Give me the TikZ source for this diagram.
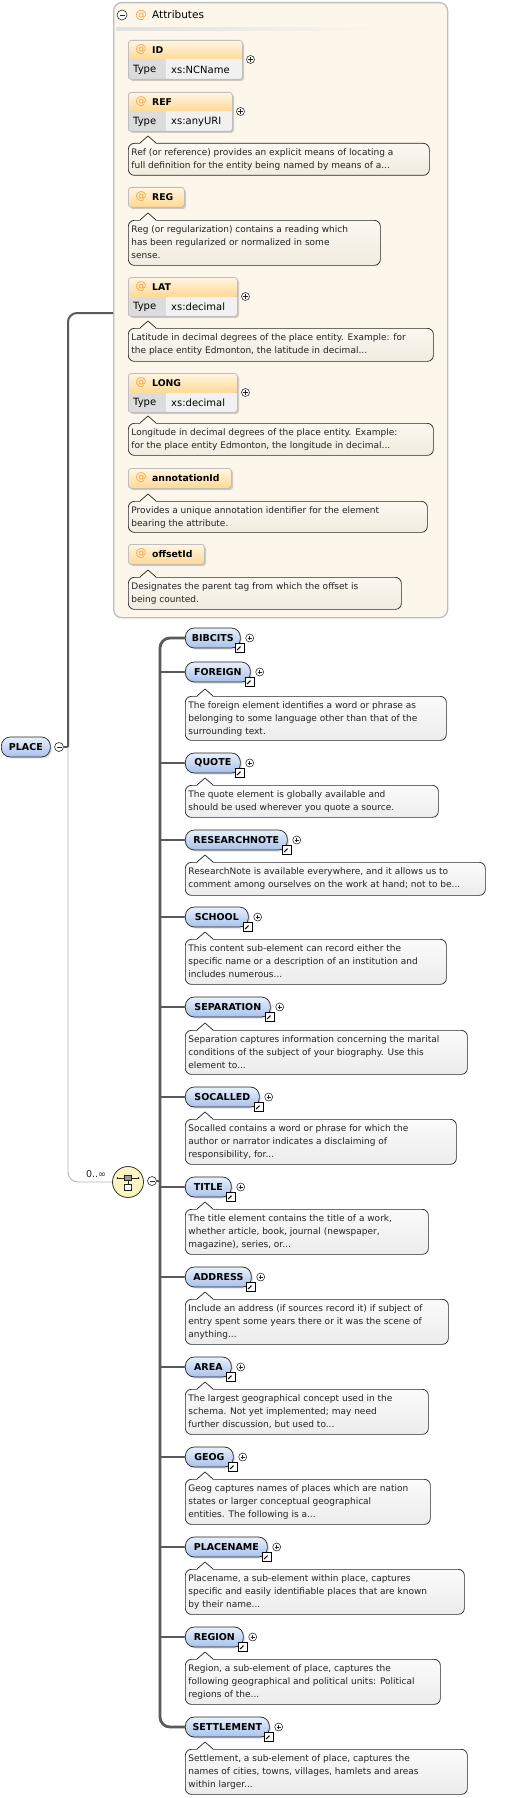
\documentclass[tikz,border=0pt]{standalone}
\usepackage{fontspec}
\setmainfont{DejaVu Sans}
\usetikzlibrary{shadows}
\definecolor{attrbg}{HTML}{FDF6EA}
\definecolor{attrborder}{HTML}{BEBEBE}
\definecolor{elemtop}{HTML}{E8F0FC}
\definecolor{elembot}{HTML}{A8C1EA}
\definecolor{chfill}{HTML}{FBF5C2}
\definecolor{desctop}{HTML}{FBFBFB}
\definecolor{descbot}{HTML}{ECECEC}
\definecolor{adesctop}{HTML}{FCF8F1}
\definecolor{adescbot}{HTML}{F1EBE0}
\definecolor{attrtop}{HTML}{FFF6E4}
\definecolor{attrbot}{HTML}{FFD894}
\definecolor{typel}{HTML}{DCDCDC}
\definecolor{typer}{HTML}{F1F1F1}
\definecolor{atorange}{HTML}{F2A23A}
\definecolor{connc}{HTML}{5A5A5A}
\definecolor{thinc}{HTML}{B4B4B4}
\definecolor{txtc}{HTML}{222222}
\tikzset{
  elem/.style={draw=black!85, line width=0.7pt, rounded corners=9pt, top color=elemtop, bottom color=elembot,
    minimum height=20pt, inner xsep=5pt, inner ysep=0pt, font=\fontsize{9.5}{11}\selectfont\bfseries, text=black,
    drop shadow={shadow xshift=1.5pt, shadow yshift=-1.5pt, opacity=0.25}},
  plusc/.style={circle, draw=black!85, fill=white, minimum size=8pt, inner sep=0pt, line width=0.55pt,
    path picture={\draw[line width=0.55pt] ([xshift=-2.2pt]path picture bounding box.center) -- ([xshift=2.2pt]path picture bounding box.center)
      ([yshift=-2.2pt]path picture bounding box.center) -- ([yshift=2.2pt]path picture bounding box.center);}},
  minusc/.style={circle, draw=black!85, fill=white, minimum size=9pt, inner sep=0pt, line width=0.6pt,
    path picture={\draw[line width=0.6pt] ([xshift=-2.5pt]path picture bounding box.center) -- ([xshift=2.5pt]path picture bounding box.center);}},
  scut/.style={draw=black, fill=white, minimum size=9pt, inner sep=0pt, line width=0.6pt,
    path picture={\draw[line width=1.1pt] ([shift={(-2.6pt,-2.6pt)}]path picture bounding box.center) -- ([shift={(1pt,1pt)}]path picture bounding box.center);
      \fill ([shift={(3pt,3pt)}]path picture bounding box.center) -- ([shift={(-1.2pt,3pt)}]path picture bounding box.center) -- ([shift={(3pt,-1.2pt)}]path picture bounding box.center) -- cycle;}},
  descbox/.style={draw=black!85, line width=0.7pt, rounded corners=6pt, top color=desctop, bottom color=descbot, inner sep=0pt},
  descbox-tip/.style={fill=desctop},
  adescbox/.style={draw=black!85, line width=0.7pt, rounded corners=6pt, top color=adesctop, bottom color=adescbot, inner sep=0pt},
  adescbox-tip/.style={fill=adesctop},
  desctext/.style={inner sep=0pt, align=left, font=\fontsize{9}{13.3}\selectfont, text=txtc},
  attrframe/.style={draw=attrborder, line width=0.8pt, rounded corners=3pt, inner sep=0pt},
  attrname/.style={inner sep=0pt, font=\fontsize{9.3}{11}\selectfont\bfseries, text=black},
  atsym/.style={inner sep=0pt, font=\fontsize{11}{12}\selectfont, text=atorange},
  typetxt/.style={inner sep=0pt, font=\fontsize{10}{11}\selectfont, text=black},
  elconn/.style={draw=connc, line width=2pt},
  barline/.style={draw=connc, line width=2.8pt},
  thinconn/.style={draw=thinc, line width=0.9pt},
}
% element: name, y center, right x, label
\newcommand\mkEl[4]{%
  \pgfmathsetmacro\elw{#3-185}%
  \node[elem, minimum width=\elw pt, anchor=west] (#1) at (185,#2) {#4};
  \node[plusc] (#1-p) at ([xshift=9pt]#1.east) {};
  \node[scut] (#1-s) at ([xshift=-1pt,yshift=1pt]#1.south east) {};
}
% description: name, left, top, bottom, right, style, text
\newcommand\mkDesc[7]{%
  \pgfmathsetmacro\dw{#5-#2}%
  \pgfmathsetmacro\dh{#4-#3}%
  \pgfmathsetmacro\tpa{#2+12}%
  \pgfmathsetmacro\tpb{#2+20}%
  \pgfmathsetmacro\tpc{#2+28}%
  \pgfmathsetmacro\tpy{#3-7}%
  \pgfmathsetmacro\tpz{#3+0.9}%
  \node[#6, minimum width=\dw pt, minimum height=\dh pt, anchor=north west] (#1) at (#2,#3) {};
  \fill[#6-tip] (\tpa,\tpz) -- (\tpb,\tpy) -- (\tpc,\tpz) -- cycle;
  \draw[black!85, line width=0.7pt] (\tpa,#3) -- (\tpb,\tpy) -- (\tpc,#3);
  \node[desctext, anchor=north west] (#1-t) at (#2+3.2,#3+5) {#7};
}
% typed attribute: name, top, right, label, type
\newcommand\mkAttrT[5]{%
  \pgfmathsetmacro\aw{#3-128}%
  \fill[black, opacity=0.18, rounded corners=3pt] (130,#2+2) rectangle (#3+2,#2+41);
  \shade[top color=attrtop, bottom color=attrbot, rounded corners=3pt] (128,#2) rectangle (#3,#2+20);
  \fill[typel] (128,#2+19.5) rectangle (166,#2+39);
  \fill[typer] (166,#2+19.5) rectangle (#3,#2+39);
  \node[attrframe, minimum width=\aw pt, minimum height=39pt, anchor=north west] (#1) at (128,#2) {};
  \node[atsym] (#1-at) at (141,#2+10) {@};
  \node[attrname, anchor=west] (#1-n) at (152,#2+10) {#4};
  \node[typetxt, anchor=west] (#1-k) at (133,#2+29.5) {Type};
  \node[typetxt, anchor=west] (#1-v) at (171,#2+29.5) {#5};
  \node[plusc] (#1-p) at (#3+8.5,#2+19.5) {};
}
% untyped attribute: name, top, right, label
\newcommand\mkAttrN[4]{%
  \pgfmathsetmacro\aw{#3-128}%
  \fill[black, opacity=0.18, rounded corners=3pt] (130,#2+2) rectangle (#3+2,#2+22);
  \shade[top color=attrtop, bottom color=attrbot, rounded corners=3pt] (128,#2) rectangle (#3,#2+20);
  \node[attrframe, minimum width=\aw pt, minimum height=20pt, anchor=north west] (#1) at (128,#2) {};
  \node[atsym] (#1-at) at (141,#2+10) {@};
  \node[attrname, anchor=west] (#1-n) at (152,#2+10) {#4};
}
\begin{document}
\begin{tikzpicture}[x=1pt, y=-1pt]
\useasboundingbox (0,0) rectangle (509,1798);
\fill[white] (0,0) rectangle (509,1798);

% ---------- attributes group ----------
\node[draw=attrborder, fill=attrbg, line width=1.3pt, rounded corners=8pt, minimum width=334pt, minimum height=615pt,
  anchor=north west, inner sep=0pt] (ATTRS) at (113,2) {};
\shade[left color=black!12, right color=attrbg] (116,28) rectangle (380,31);
\node[minusc, minimum size=10pt] (ATTRS-m) at (122,15) {};
\node[atsym, font=\fontsize{11.5}{12}\selectfont] (ATTRS-at) at (141,15) {@};
\node[inner sep=0pt, anchor=west, font=\fontsize{10.5}{12}\selectfont, text=black] (ATTRS-l) at (152,15) {Attributes};

\mkAttrT{ID}{40}{242}{ID}{xs:NCName}
\mkAttrT{REF}{92}{232}{REF}{xs:anyURI}
\mkDesc{REF-d}{128}{143}{175}{429}{adescbox}{Ref (or reference) provides an explicit means of locating a\\full definition for the entity being named by means of a...}
\mkAttrN{REG}{187}{184}{REG}
\mkDesc{REG-d}{128}{220}{265}{380}{adescbox}{Reg (or regularization) contains a reading which\\has been regularized or normalized in some\\sense.}
\mkAttrT{LAT}{277}{237}{LAT}{xs:decimal}
\mkDesc{LAT-d}{128}{328}{361}{433}{adescbox}{Latitude in decimal degrees of the place entity. Example: for\\the place entity Edmonton, the latitude in decimal...}
\mkAttrT{LONG}{373}{237}{LONG}{xs:decimal}
\mkDesc{LONG-d}{128}{423}{455}{433}{adescbox}{Longitude in decimal degrees of the place entity. Example:\\for the place entity Edmonton, the longitude in decimal...}
\mkAttrN{ANN}{468}{231}{annotationId}
\mkDesc{ANN-d}{128}{501}{532}{427}{adescbox}{Provides a unique annotation identifier for the element\\bearing the attribute.}
\mkAttrN{OFF}{544}{204}{offsetId}
\mkDesc{OFF-d}{128}{577}{609}{401}{adescbox}{Designates the parent tag from which the offset is\\being counted.}

% ---------- root element ----------
\node[elem, minimum width=49pt, anchor=west] (PLACE) at (1,747) {PLACE};
\node[minusc] (PLACE-m) at (59,747) {};
\coordinate (j1) at (68,747);
\coordinate (j2) at (68,313);
\coordinate (j3) at (68,1182);
\draw[elconn] (PLACE-m.east) -- (j1);
\draw[elconn, rounded corners=9pt] (j1) -- (j2) -- (j2 -| ATTRS.west);

% ---------- choice ----------
\node[circle, draw=black!80, fill=chfill, line width=0.8pt, minimum size=31pt, inner sep=0pt] (CH) at (128,1182) {};
\draw[thinconn, rounded corners=10pt] (j1) -- (j3) -- (CH.west);
\node[inner sep=0pt, font=\fontsize{9.5}{11}\selectfont, text=txtc] (CH-n) at (96,1174) {0..∞};
\draw[black!85, line width=0.7pt] (117.5,1178) -- (138.5,1178);
\fill[black!85] (117.5,1178) circle (1pt) (138.5,1178) circle (1pt);
\draw[black!85, line width=0.7pt] (128,1180) -- (128,1184);
\filldraw[fill=black!40, draw=black!85, line width=0.5pt] (124.5,1175) rectangle (131.5,1180.5);
\filldraw[fill=white, draw=black!85, line width=0.6pt] (124.5,1184) rectangle (131.5,1190.5);
\node[minusc] (CH-m) at (152,1181) {};
\coordinate (bar) at (160,0);

% ---------- connectors of the choice ----------
\draw[elconn] (CH-m.east) -- (CH-m.east -| bar);
\coordinate (BIBCITS-c) at (185,638);
\coordinate (SETTLEMENT-c) at (185,1727);
\draw[barline, rounded corners=10pt] (BIBCITS-c) -- (BIBCITS-c -| bar) -- (SETTLEMENT-c -| bar) -- (SETTLEMENT-c);
\foreach \yy in {672,763,840,917,1007,1097,1187,1277,1367,1457,1547,1637} {
  \coordinate (cx) at (185,\yy);
  \draw[elconn] (cx) -- (cx -| bar);
}

% ---------- child elements ----------
\mkEl{BIBCITS}{638}{240}{BIBCITS}
\mkEl{FOREIGN}{672}{250}{FOREIGN}
\mkDesc{FOREIGN-d}{185}{696}{740}{446}{descbox}{The foreign element identifies a word or phrase as\\belonging to some language other than that of the\\surrounding text.}
\mkEl{QUOTE}{763}{240}{QUOTE}
\mkDesc{QUOTE-d}{185}{785}{817}{438}{descbox}{The quote element is globally available and\\should be used wherever you quote a source.}
\mkEl{RESEARCHNOTE}{840}{287}{RESEARCHNOTE}
\mkDesc{RESEARCHNOTE-d}{185}{862}{895}{485}{descbox}{ResearchNote is available everywhere, and it allows us to\\comment among ourselves on the work at hand; not to be...}
\mkEl{SCHOOL}{917}{248}{SCHOOL}
\mkDesc{SCHOOL-d}{185}{939}{984}{446}{descbox}{This content sub-element can record either the\\specific name or a description of an institution and\\includes numerous...}
\mkEl{SEPARATION}{1007}{270}{SEPARATION}
\mkDesc{SEPARATION-d}{185}{1030}{1074}{467}{descbox}{Separation captures information concerning the marital\\conditions of the subject of your biography. Use this\\element to...}
\mkEl{SOCALLED}{1097}{259}{SOCALLED}
\mkDesc{SOCALLED-d}{185}{1119}{1164}{456}{descbox}{Socalled contains a word or phrase for which the\\author or narrator indicates a disclaiming of\\responsibility, for...}
\mkEl{TITLE}{1187}{231}{TITLE}
\mkDesc{TITLE-d}{185}{1209}{1254}{428}{descbox}{The title element contains the title of a work,\\whether article, book, journal (newspaper,\\magazine), series, or...}
\mkEl{ADDRESS}{1277}{251}{ADDRESS}
\mkDesc{ADDRESS-d}{185}{1299}{1344}{448}{descbox}{Include an address (if sources record it) if subject of\\entry spent some years there or it was the scene of\\anything...}
\mkEl{AREA}{1367}{231}{AREA}
\mkDesc{AREA-d}{185}{1389}{1434}{428}{descbox}{The largest geographical concept used in the\\schema. Not yet implemented; may need\\further discussion, but used to...}
\mkEl{GEOG}{1457}{233}{GEOG}
\mkDesc{GEOG-d}{185}{1479}{1524}{430}{descbox}{Geog captures names of places which are nation\\states or larger conceptual geographical\\entities. The following is a...}
\mkEl{PLACENAME}{1547}{267}{PLACENAME}
\mkDesc{PLACENAME-d}{185}{1569}{1614}{464}{descbox}{Placename, a sub-element within place, captures\\specific and easily identifiable places that are known\\by their name...}
\mkEl{REGION}{1637}{243}{REGION}
\mkDesc{REGION-d}{185}{1659}{1704}{440}{descbox}{Region, a sub-element of place, captures the\\following geographical and political units: Political\\regions of the...}
\mkEl{SETTLEMENT}{1727}{269}{SETTLEMENT}
\mkDesc{SETTLEMENT-d}{185}{1749}{1794}{467}{descbox}{Settlement, a sub-element of place, captures the\\names of cities, towns, villages, hamlets and areas\\within larger...}
\end{tikzpicture}
\end{document}
